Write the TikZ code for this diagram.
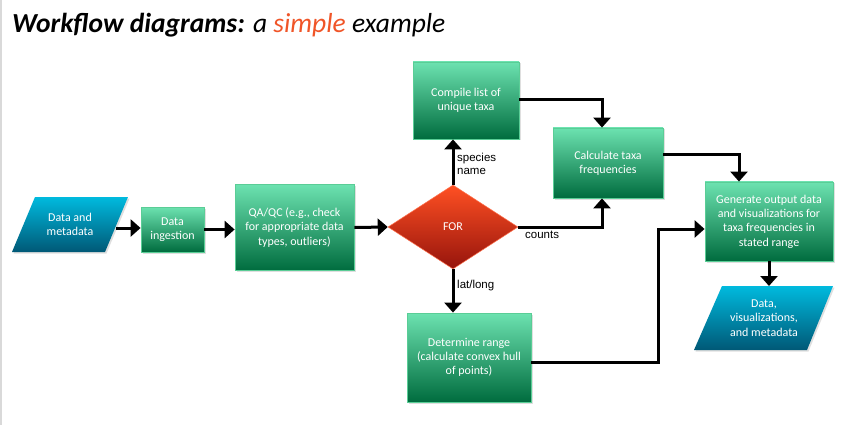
\documentclass[tikz,border=0pt]{standalone}
\usepackage{fontspec}
\setmainfont{Carlito}
\newfontfamily\labfont{Liberation Sans}
\usetikzlibrary{shapes.geometric,arrows.meta,shadows}
\definecolor{gtop}{RGB}{108,226,176}
\definecolor{gmid}{RGB}{0,150,95}
\definecolor{gbot}{RGB}{0,108,62}
\definecolor{gline}{RGB}{90,205,150}
\definecolor{btop}{RGB}{0,186,222}
\definecolor{bbot}{RGB}{0,88,118}
\definecolor{rtop}{RGB}{255,80,35}
\definecolor{rbot}{RGB}{150,20,12}
\definecolor{titlered}{RGB}{240,85,40}
\tikzset{
  greenbox/.style={rectangle, draw=gline, line width=0.8pt, top color=gtop, middle color=gmid, bottom color=gbot,
    text=white, align=center, inner sep=2pt, font=\fontsize{12}{14.3}\selectfont,
    drop shadow={opacity=0.25, shadow xshift=1.5pt, shadow yshift=-1.5pt}},
  paratext/.style={text=white, align=center, font=\fontsize{12}{14.3}\selectfont},
  decision/.style={diamond, top color=rtop, bottom color=rbot, draw=rtop!80!white, line width=0.5pt,
    text=white, inner sep=0pt, font=\fontsize{12}{14.3}\selectfont},
  flow/.style={line width=3pt, -{Triangle[width=17pt,length=10pt]}},
  lab/.style={font=\labfont\fontsize{11.5}{13}\selectfont, text=black, align=left, inner sep=0pt}
}
\begin{document}
\begin{tikzpicture}[x=1pt,y=-1pt]
\useasboundingbox (0,0) rectangle (841,425);
\fill[white] (0,0) rectangle (841,425);
\fill[black!15] (0,0) rectangle (2,425);
% title
\node[anchor=base west, inner sep=0pt, font=\fontsize{27.5}{30}\selectfont] (title) at (12,33)
  {\textbf{\textit{Workflow diagrams:}} \textit{a \textcolor{titlered}{simple} example}};
% input parallelogram
\shade[top color=btop, bottom color=bbot, drop shadow={opacity=0.25, shadow xshift=1.5pt, shadow yshift=-1.5pt}]
  (35,197) -- (128,197) -- (105,252) -- (12,252) -- cycle;
\node[paratext] (din) at (70,224.5) {Data and\\metadata};
\coordinate (dinR) at (116,228);
% boxes
\node[greenbox, minimum width=63pt, minimum height=45pt] (ing) at (172.5,229.5) {Data\\ingestion};
\node[greenbox, minimum width=119pt, minimum height=86pt] (qa) at (294.5,227.5) {QA/QC (e.g., check\\for appropriate data\\types, outliers)};
\node[decision, minimum width=130pt, minimum height=84pt] (for) at (453,227) {FOR};
\node[greenbox, minimum width=106pt, minimum height=77pt] (comp) at (466,100.5) {Compile list of\\unique taxa};
\node[greenbox, minimum width=110pt, minimum height=70pt] (calc) at (608,163) {Calculate taxa\\frequencies};
\node[greenbox, minimum width=124pt, minimum height=89pt] (det) at (469,357.5) {Determine range\\(calculate convex hull\\of points)};
\node[greenbox, minimum width=128pt, minimum height=79pt] (gen) at (769,221.5) {Generate output data\\and visualizations for\\taxa frequencies in\\stated range};
% output parallelogram
\shade[top color=btop, bottom color=bbot, drop shadow={opacity=0.25, shadow xshift=1.5pt, shadow yshift=-1.5pt}]
  (722,286) -- (833,286) -- (807,350) -- (694,350) -- cycle;
\node[paratext] (dout) at (764,318) {Data,\\visualizations,\\and metadata};
\coordinate (doutT) at (770,286);
% connectors
\draw[flow] (dinR) -- (dinR -| ing.west);
\draw[flow] (ing.east) -- (ing.east -| qa.west);
\draw[flow] (qa.east) -- (for.west);
\draw[flow] (for.north) -- (for.north |- comp.south);
\coordinate (c2) at (602,100);
\draw[flow] (c2 -| comp.east) -| (c2 |- calc.north);
\coordinate (c3) at (602,227);
\draw[flow] (for.east) -- (c3) -- (c3 |- calc.south);
\draw[flow] (for.south) -- (for.south |- det.north);
\coordinate (bend) at (658,229);
\coordinate (c4) at (658,362);
\draw[flow] (c4 -| det.east) -- (c4) -- (bend) -- (bend -| gen.west);
\coordinate (c5) at (739,155);
\draw[flow] (c5 -| calc.east) -- (c5) -- (c5 |- gen.north);
\draw[flow] (gen.south) -- (gen.south |- doutT);
% labels
\node[lab, anchor=base west] (lspec) at (457,175) {species\\name};
\node[lab, anchor=base west] (lcount) at (525,238) {counts};
\node[lab, anchor=base west] (llat) at (457,288) {lat/long};
\end{tikzpicture}
\end{document}
